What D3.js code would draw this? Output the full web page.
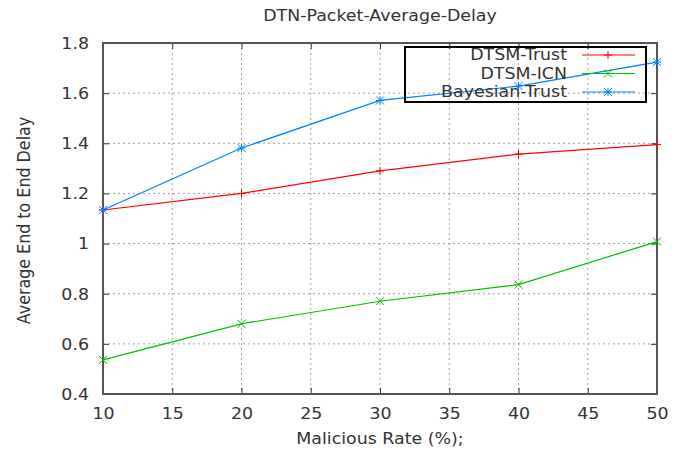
<!DOCTYPE html>
<html><head><meta charset="utf-8">
<script src="https://cdn.jsdelivr.net/npm/d3@7"></script>
<style>body{margin:0;background:#fff;} text{font-family:"DejaVu Sans",sans-serif;fill:#333;}</style>
</head><body>
<svg id="c" width="683" height="450"></svg>
<script>
const xValues = [10, 20, 30, 40, 50];
const seriesNames = ["DTSM-Trust", "DTSM-ICN", "Bayesian-Trust"];
const dtsmTrust = [1.134, 1.200, 1.290, 1.357, 1.395];
const dtsmICN = [0.536, 0.680, 0.770, 0.836, 1.008];
const bayesianTrust = [1.134, 1.381, 1.571, 1.628, 1.724];
const xTicks = [10, 15, 20, 25, 30, 35, 40, 45, 50];
const yTicks = [0.4, 0.6, 0.8, 1.0, 1.2, 1.4, 1.6, 1.8];
const colors = ["#ff0000", "#00c000", "#0080ff"];
const markers = ["plus", "cross", "star"];

const SX = 1.16, FS = "15px";
const svg = d3.select("#c");
const L = 103, R = 657, T = 43, B = 394;
const x = d3.scaleLinear().domain([10, 50]).range([L, R]);
const y = d3.scaleLinear().domain([0.4, 1.8]).range([B, T]);

// grid
const g = svg.append("g");
g.selectAll("line.gx").data(xTicks.slice(1, -1)).enter().append("line")
  .attr("x1", d => x(d)).attr("x2", d => x(d)).attr("y1", T).attr("y2", B)
  .attr("stroke", "#a0a0a0").attr("stroke-width", 1).attr("stroke-dasharray", "2,3");
g.selectAll("line.gy").data(yTicks.slice(1, -1)).enter().append("line")
  .attr("x1", L).attr("x2", R).attr("y1", d => y(d)).attr("y2", d => y(d))
  .attr("stroke", "#a0a0a0").attr("stroke-width", 1).attr("stroke-dasharray", "2,3");

// axes with inward ticks
const fmt = d => (Math.abs(d - 1) < 1e-9 ? "1" : d3.format(".1f")(d));
const axB = svg.append("g").attr("transform", `translate(0,${B})`)
  .call(d3.axisBottom(x).tickValues(xTicks).tickSizeInner(-6).tickSizeOuter(0).tickPadding(14));
const axT = svg.append("g").attr("transform", `translate(0,${T})`)
  .call(d3.axisTop(x).tickValues(xTicks).tickSizeInner(-6).tickSizeOuter(0).tickFormat(""));
const axL = svg.append("g").attr("transform", `translate(${L},0)`)
  .call(d3.axisLeft(y).tickValues(yTicks).tickFormat(fmt).tickSizeInner(-6).tickSizeOuter(0).tickPadding(14));
const axR = svg.append("g").attr("transform", `translate(${R},0)`)
  .call(d3.axisRight(y).tickValues(yTicks).tickSizeInner(-6).tickSizeOuter(0).tickFormat(""));
[axB, axT, axL, axR].forEach(a => {
  a.select(".domain").remove();
  a.selectAll(".tick line").attr("stroke", "#333").attr("stroke-width", 1);
  a.selectAll(".tick text").style("font-family", "DejaVu Sans").style("font-size", FS).attr("fill", "#333")
    .attr("transform", `scale(${SX},1)`);
});
axL.selectAll(".tick text").attr("x", -14 / SX).attr("dy", "0.36em");
axB.selectAll(".tick text").attr("y", 14);
svg.append("rect").attr("x", L).attr("y", T).attr("width", R - L).attr("height", B - T)
  .attr("fill", "none").attr("stroke", "#555").attr("stroke-width", 2);

// series
const allSeries = [dtsmTrust, dtsmICN, bayesianTrust];
function marker(sel, type, color, cx, cy) {
  const s = 4;
  const p = [];
  if (type === "plus" || type === "star") { p.push([cx - s, cy, cx + s, cy]); p.push([cx, cy - s, cx, cy + s]); }
  if (type === "cross" || type === "star") { p.push([cx - s, cy - s, cx + s, cy + s]); p.push([cx - s, cy + s, cx + s, cy - s]); }
  p.forEach(q => sel.append("line").attr("x1", q[0]).attr("y1", q[1]).attr("x2", q[2]).attr("y2", q[3])
    .attr("stroke", color).attr("stroke-width", 1));
}
const line = d3.line().x(d => x(d[0])).y(d => y(d[1]));
allSeries.forEach((vals, i) => {
  const pts = xValues.map((xv, j) => [xv, vals[j]]);
  const sg = svg.append("g");
  sg.append("path").attr("d", line(pts)).attr("fill", "none").attr("stroke", colors[i]).attr("stroke-width", 1.2);
  pts.forEach(p => marker(sg, markers[i], colors[i], x(p[0]), y(p[1])));
});

function stext(px, py, anchor, str, dy) {
  return svg.append("text").attr("transform", `translate(${px},${py}) scale(${SX},1)`)
    .attr("text-anchor", anchor).attr("dy", dy || 0).style("font-size", FS).text(str);
}

// legend
const lg = svg.append("g");
lg.append("rect").attr("x", 405).attr("y", 47).attr("width", 241).attr("height", 55)
  .attr("fill", "none").attr("stroke", "#000").attr("stroke-width", 2);
seriesNames.forEach((n, i) => {
  const ly = 55 + i * 18.5;
  stext(567, ly, "end", n, "0.36em");
  lg.append("line").attr("x1", 582).attr("x2", 635).attr("y1", ly).attr("y2", ly)
    .attr("stroke", colors[i]).attr("stroke-width", 1.2);
  marker(lg, markers[i], colors[i], 608, ly);
});

// titles
stext((L + R) / 2, 21, "middle", "DTN-Packet-Average-Delay");
stext((L + R) / 2, 444, "middle", "Malicious Rate (%);");
svg.append("text").attr("transform", `translate(30,${(T + B) / 2 + 2}) rotate(-90) scale(1.06,${SX})`).attr("text-anchor", "middle")
  .style("font-size", FS).text("Average End to End Delay");
</script>
</body></html>
